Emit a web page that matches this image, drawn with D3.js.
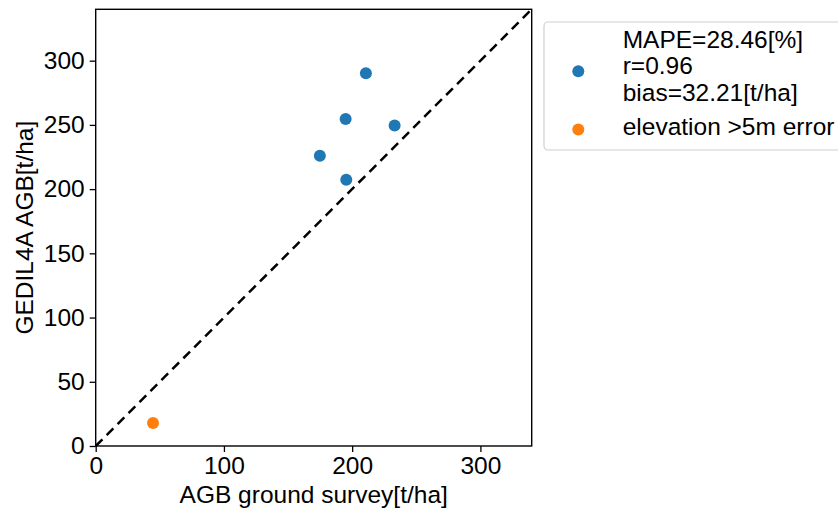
<!DOCTYPE html>
<html>
<head>
<meta charset="utf-8">
<script src="https://cdn.jsdelivr.net/npm/d3@7"></script>
<style>
  html, body { margin: 0; padding: 0; background: #fff; }
  svg { display: block; font-family: "Liberation Sans", Arial, sans-serif; }
</style>
</head>
<body>
<svg id="chart" width="838" height="509"></svg>
<script>
// Ground survey vs GEDI L4A aboveground biomass, t/ha
const groundAGB = [210.7, 194.9, 233.1, 174.8, 195.4];
const gediAGB   = [290.2, 254.6, 249.6, 226.0, 207.3];
const elevErrGround = [44.7];
const elevErrGedi   = [17.9];
const tickValues = [0, 100, 200, 300];
const yTickValues = [0, 50, 100, 150, 200, 250, 300];
const statsLines = ["MAPE=28.46[%]", "r=0.96", "bias=32.21[t/ha]"];
const elevLabel = "elevation >5m error";

const svg = d3.select("#chart");
const m = { left: 95.7, top: 9.3, right: 531.7, bottom: 446 };
const fs = 24.5;

const x = d3.scaleLinear().domain([0, 340]).range([m.left, m.right]);
const y = d3.scaleLinear().domain([0, 340]).range([m.bottom, m.top]);

const blue = "#1f77b4", orange = "#ff7f0e";

// 1:1 reference line
svg.append("line")
  .attr("x1", x(0)).attr("y1", y(0))
  .attr("x2", x(340)).attr("y2", y(340))
  .attr("stroke", "#000").attr("stroke-width", 2.5)
  .attr("stroke-dasharray", "9.5,6");

// plot points
svg.append("g").selectAll("circle")
  .data(groundAGB.map((g, i) => [g, gediAGB[i]]))
  .join("circle")
  .attr("cx", d => x(d[0])).attr("cy", d => y(d[1]))
  .attr("r", 6).attr("fill", blue);

svg.append("g").selectAll("circle")
  .data(elevErrGround.map((g, i) => [g, elevErrGedi[i]]))
  .join("circle")
  .attr("cx", d => x(d[0])).attr("cy", d => y(d[1]))
  .attr("r", 6).attr("fill", orange);

// axes
const xAxis = svg.append("g")
  .attr("transform", `translate(0,${m.bottom})`)
  .call(d3.axisBottom(x).tickValues(tickValues).tickSize(6).tickPadding(5));
const yAxis = svg.append("g")
  .attr("transform", `translate(${m.left},0)`)
  .call(d3.axisLeft(y).tickValues(yTickValues).tickSize(6).tickPadding(5));

[xAxis, yAxis].forEach(a => {
  a.select(".domain").remove();
  a.selectAll("line").attr("stroke", "#000").attr("stroke-width", 1.3);
  a.selectAll("text").attr("font-size", fs).attr("fill", "#000")
    .attr("font-family", "Liberation Sans, Arial, sans-serif");
});

// frame
svg.append("rect")
  .attr("x", m.left).attr("y", m.top)
  .attr("width", m.right - m.left).attr("height", m.bottom - m.top)
  .attr("fill", "none").attr("stroke", "#000").attr("stroke-width", 1.4);

// axis titles
svg.append("text")
  .attr("x", (m.left + m.right) / 2).attr("y", 503)
  .attr("text-anchor", "middle").attr("font-size", fs)
  .text("AGB ground survey[t/ha]");
svg.append("text")
  .attr("transform", `translate(33,${(m.top + m.bottom) / 2}) rotate(-90)`)
  .attr("text-anchor", "middle").attr("font-size", fs)
  .text("GEDIL4A AGB[t/ha]");

// legend
const lg = svg.append("g");
lg.append("rect")
  .attr("x", 544).attr("y", 22).attr("width", 320).attr("height", 128)
  .attr("rx", 4).attr("fill", "#fff").attr("stroke", "#d0d0d0").attr("stroke-width", 1.2);
lg.append("circle").attr("cx", 578.3).attr("cy", 71.3).attr("r", 6).attr("fill", blue);
lg.append("circle").attr("cx", 578.3).attr("cy", 129.5).attr("r", 6).attr("fill", orange);
lg.append("text").attr("font-size", fs)
  .selectAll("tspan").data(statsLines).join("tspan")
  .attr("x", 622.7).attr("y", (d, i) => 47.5 + i * 26.8)
  .text(d => d);
lg.append("text").attr("font-size", fs)
  .attr("x", 622.7).attr("y", 135).text(elevLabel);
</script>
</body>
</html>
